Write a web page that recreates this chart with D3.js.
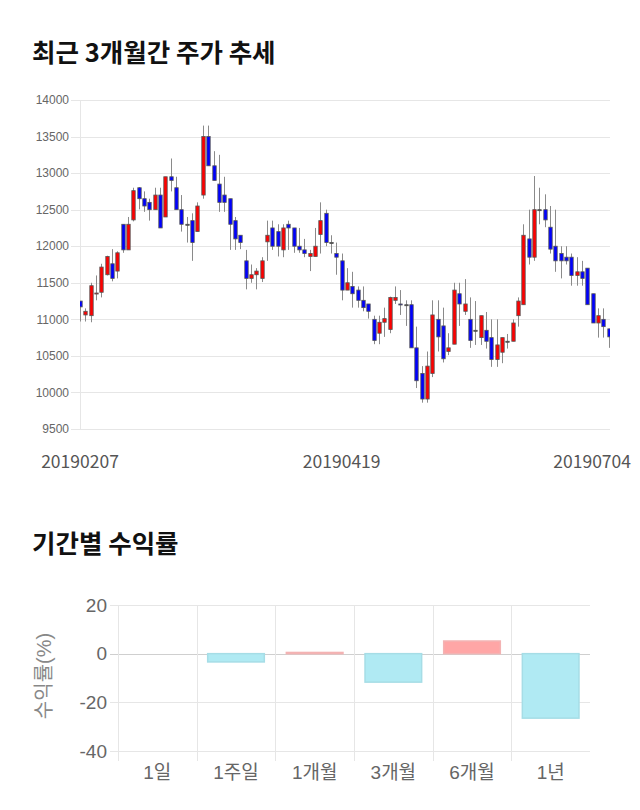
<!DOCTYPE html>
<html>
<head>
<meta charset="utf-8">
<script src="https://cdn.jsdelivr.net/npm/d3@7"></script>
<style>
  html, body { margin: 0; padding: 0; background: #fff; }
  svg { display: block; }
</style>
</head>
<body>
<svg id="chart" width="640" height="810"></svg>
<script>
// ---------- Candlestick data (최근 3개월간 주가 추세) ----------
const opens  = [11250,11060,11050,11350,11370,11610,11760,11660,12300,11950,
                12360,12800,12650,12600,12500,12700,12400,12950,12800,12500,
                12300,12350,12200,12700,13500,13100,12850,12700,12650,12350,
                12150,11800,11560,11610,11560,12060,12250,12200,11950,12300,
                12250,12000,11950,11860,11860,12160,12450,12050,11900,11800,
                11400,11450,11400,11260,11210,11000,10810,10960,10860,11260,
                11210,11200,11200,10610,10260,9910,10260,11000,10910,10560,
                10660,11350,11110,11000,10850,10750,10850,10750,10450,10550,
                10700,10700,11050,11200,12100,11850,12500,12500,12260,12000,
                11900,11850,11850,11600,11650,11700,11350,10950,11000,10870];
const highs  = [11250,11150,11500,11600,11760,11870,11960,11930,12300,12400,
                12800,12810,12750,12650,12800,12800,12950,13200,12950,12700,
                12400,12450,12600,13650,13650,13300,13250,12950,12650,12400,
                12150,11950,11750,11700,11850,12350,12350,12300,12300,12350,
                12250,12250,12100,11950,12250,12600,12500,12150,12050,11900,
                11700,11650,11450,11450,11210,11050,11050,11160,11310,11450,
                11400,11260,11260,10900,10360,10560,11260,11260,11160,10810,
                11500,11500,11550,11300,11250,11050,11100,11000,11000,10750,
                10800,11000,11300,12300,12500,12960,12800,12710,12550,12500,
                12000,12000,11900,11850,11800,11700,11350,11150,11150,10870];
const lows   = [10970,10970,10960,11260,11300,11600,11520,11560,11910,11950,
                12340,12505,12470,12350,12500,12250,12400,12750,12500,12200,
                12050,11800,12200,12650,13100,12900,12470,12470,11950,11950,
                11960,11410,11500,11410,11510,11800,11950,11860,11850,11950,
                11910,11910,11850,11660,11860,11900,12000,11900,11610,11260,
                11400,11160,11160,11110,11010,10660,10660,10760,10810,11210,
                11060,10910,10610,10060,9860,9860,10210,10560,10410,10510,
                10660,10910,11060,10610,10650,10650,10600,10350,10350,10400,
                10600,10700,10900,11200,11750,11800,12300,12260,11900,11650,
                11560,11750,11460,11460,11460,11200,10950,10750,10750,10610];
const closes = [11170,11110,11460,11360,11715,11860,11560,11910,11950,12300,
                12760,12650,12550,12500,12700,12250,12950,12900,12500,12300,
                12300,12050,12550,13500,13100,12900,12600,12600,12300,12100,
                12050,11560,11610,11660,11800,12150,12000,12000,12250,12250,
                12000,11950,11900,11900,12000,12350,12050,12050,11850,11400,
                11500,11350,11260,11160,11110,10710,10960,11010,11300,11300,
                11200,11200,10610,10160,9910,10360,11060,10760,10460,10610,
                11400,11210,11210,10710,10850,11050,10700,10450,10650,10750,
                10700,10950,11250,12150,11850,12500,12500,12360,11960,11800,
                11800,11800,11600,11650,11560,11200,10950,11050,10900,10760];
const priceTicks = [9500,10000,10500,11000,11500,12000,12500,13000,13500,14000];
const dateLabels = ["20190207","20190419","20190704"];
const dateLabelIndex = [0, 49, 99];

// ---------- Returns data (기간별 수익률) ----------
const periods = ["1일","1주일","1개월","3개월","6개월","1년"];
const returns = [0, -3.4, 0.5, -11.7, 5.2, -26.5];
const returnTicks = [20, 0, -20, -40];

const svg = d3.select("#chart");
const KR = "'Noto Sans CJK KR','Noto Sans',sans-serif";
const LAT = "'Liberation Sans',Arial,sans-serif";

// ---------- Titles ----------
svg.append("text").attr("x", 32).attr("y", 62)
  .attr("font-family", KR).attr("font-weight", 700).attr("font-size", 25.5)
  .attr("fill", "#111").text("최근 3개월간 주가 추세");
svg.append("text").attr("x", 32).attr("y", 553)
  .attr("font-family", KR).attr("font-weight", 700).attr("font-size", 25.5)
  .attr("fill", "#111").text("기간별 수익률");

// ---------- Candlestick chart ----------
const cx0 = 80, cx1 = 610;
const x = d3.scaleLinear().domain([0, opens.length - 1]).range([80, 608.7]);
const y = d3.scaleLinear().domain([9500, 14000]).range([429, 100]);

svg.append("g").selectAll("line").data(priceTicks).join("line")
  .attr("x1", 71).attr("x2", cx1)
  .attr("y1", d => Math.round(y(d)) + 0.5).attr("y2", d => Math.round(y(d)) + 0.5)
  .attr("stroke", "#e6e6e6").attr("stroke-width", 1);
svg.append("line").attr("x1", cx0 + 0.5).attr("x2", cx0 + 0.5)
  .attr("y1", 100).attr("y2", 429).attr("stroke", "#e6e6e6");

svg.append("g").selectAll("text").data(priceTicks).join("text")
  .attr("x", 69).attr("y", d => y(d)).attr("dy", "0.35em")
  .attr("text-anchor", "end").attr("font-family", LAT).attr("font-size", 12)
  .attr("fill", "#666").text(d => d);

svg.append("defs").append("clipPath").attr("id", "plotclip")
  .append("rect").attr("x", cx0).attr("y", 90).attr("width", cx1 - cx0).attr("height", 350);

const gc = svg.append("g").attr("clip-path", "url(#plotclip)");
const idx = d3.range(opens.length);
gc.selectAll("line.wick").data(idx).join("line")
  .attr("x1", i => Math.round(x(i)) + 0.5).attr("x2", i => Math.round(x(i)) + 0.5)
  .attr("y1", i => y(highs[i])).attr("y2", i => y(lows[i]))
  .attr("stroke", "#8a8a8a").attr("stroke-width", 1);
const bw = 3.4;
gc.selectAll("rect.body").data(idx).join("rect")
  .attr("x", i => Math.round(x(i)) + 0.5 - bw / 2)
  .attr("width", bw)
  .attr("y", i => y(Math.max(opens[i], closes[i])))
  .attr("height", i => Math.max(1, Math.abs(y(opens[i]) - y(closes[i]))))
  .attr("fill", i => closes[i] > opens[i] ? "#ff0000" : (closes[i] < opens[i] ? "#0000ff" : "#333"))
  .attr("stroke", "#555").attr("stroke-width", 0.8);

svg.append("g").selectAll("text").data(dateLabelIndex).join("text")
  .attr("x", (d, k) => k === dateLabelIndex.length - 1 ? 631 : x(d))
  .attr("y", 468)
  .attr("text-anchor", (d, k) => k === dateLabelIndex.length - 1 ? "end" : "middle")
  .attr("font-family", KR).attr("font-size", 17.5).attr("fill", "#555")
  .text((d, k) => dateLabels[k]);

// ---------- Returns bar chart ----------
const bx = d3.scaleBand().domain(periods).range([118, 590]);
const by = d3.scaleLinear().domain([-40, 20]).range([751, 605]);

svg.append("g").selectAll("line").data(returnTicks).join("line")
  .attr("x1", 110).attr("x2", 590)
  .attr("y1", d => Math.round(by(d)) + 0.5).attr("y2", d => Math.round(by(d)) + 0.5)
  .attr("stroke", d => d === 0 ? "#cfcfcf" : "#e6e6e6");
svg.append("g").selectAll("line").data(periods).join("line")
  .attr("x1", d => Math.round(bx(d)) + 0.5).attr("x2", d => Math.round(bx(d)) + 0.5)
  .attr("y1", 605).attr("y2", 761)
  .attr("stroke", "#e6e6e6");

const barW = bx.bandwidth() * 0.72;
svg.append("g").selectAll("rect").data(periods).join("rect")
  .attr("x", d => bx(d) + (bx.bandwidth() - barW) / 2)
  .attr("width", barW)
  .attr("y", (d, i) => by(Math.max(0, returns[i])))
  .attr("height", (d, i) => Math.abs(by(returns[i]) - by(0)))
  .attr("fill", (d, i) => returns[i] >= 0 ? "#ffa6a6" : "#b0eaf3")
  .attr("stroke", (d, i) => returns[i] >= 0 ? "#f3b3b3" : "#a6dde6")
  .attr("stroke-width", 1.5);

svg.append("g").selectAll("text").data(returnTicks).join("text")
  .attr("x", 107).attr("y", d => by(d)).attr("dy", "0.35em")
  .attr("text-anchor", "end").attr("font-family", LAT).attr("font-size", 19)
  .attr("fill", "#666").text(d => d);

svg.append("g").selectAll("text").data(periods).join("text")
  .attr("x", d => bx(d) + bx.bandwidth() / 2).attr("y", 779)
  .attr("text-anchor", "middle").attr("font-family", LAT + ",'Noto Sans CJK KR'")
  .attr("font-size", 19).attr("fill", "#666").text(d => d);

svg.append("text")
  .attr("transform", "translate(51,676) rotate(-90)")
  .attr("text-anchor", "middle").attr("font-family", LAT + ",'Noto Sans CJK KR'")
  .attr("font-size", 20).attr("fill", "#888").text("수익률(%)");
</script>
</body>
</html>
